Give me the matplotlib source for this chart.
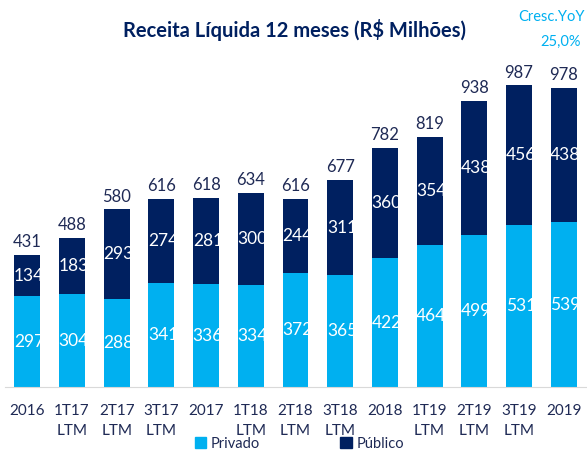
import matplotlib.pyplot as plt
import matplotlib.patches as mpatches
import numpy as np

plt.rcParams['font.family'] = ['Lato', 'DejaVu Sans']

periodos = ['2016', '1T17\nLTM', '2T17\nLTM', '3T17\nLTM', '2017', '1T18\nLTM', '2T18\nLTM',
            '3T18\nLTM', '2018', '1T19\nLTM', '2T19\nLTM', '3T19\nLTM', '2019']
privado = [297, 304, 288, 341, 336, 334, 372, 365, 422, 464, 499, 531, 539]
publico = [134, 183, 293, 274, 281, 300, 244, 311, 360, 354, 438, 456, 438]
total = [431, 488, 580, 616, 618, 634, 616, 677, 782, 819, 938, 987, 978]

azul_claro = '#00B0F0'
azul_escuro = '#002060'
texto = '#1F2A55'

fig = plt.figure(figsize=(5.87, 4.54), dpi=100)
ax = fig.add_axes([5 / 587, 67 / 454, 581 / 587, 327 / 454])

x = np.arange(len(periodos))
b1 = ax.bar(x, privado, width=0.58, color=azul_claro)
b2 = ax.bar(x, publico, width=0.58, bottom=privado, color=azul_escuro)

# rotulos internos (cortados pela barra, como no original)
for bars, vals, bases in [(b1, privado, [0] * len(privado)), (b2, publico, privado)]:
    for bar, v, b in zip(bars, vals, bases):
        t = ax.text(bar.get_x() + bar.get_width() / 2 + 0.04, b + v / 2, str(v),
                    ha='center', va='center', color='white', fontsize=12.5)
        t.set_clip_path(bar)

for xi, t in zip(x, total):
    ax.text(xi, t + 42, str(t), ha='center', va='center', color=texto, fontsize=12)

ax.set_xlim(-0.5, len(periodos) - 0.5)
ax.set_ylim(0, 1070)
ax.set_yticks([])
for s in ['top', 'right', 'left']:
    ax.spines[s].set_visible(False)
ax.spines['bottom'].set_color('#D9D9D9')
ax.set_xticks(x)
ax.set_xticklabels(periodos, fontsize=11, color=texto, linespacing=1.55)
ax.tick_params(axis='x', length=0, pad=12)

fig.text(0.502, 0.934, 'Receita Líquida 12 meses (R$ Milhões)', ha='center', va='center',
         fontsize=14.5, fontweight='bold', color=azul_escuro)
fig.text(0.997, 0.962, 'Cresc.YoY', ha='right', va='center', fontsize=10.5, color=azul_claro)
fig.text(0.955, 0.907, '25,0%', ha='center', va='center', fontsize=10.5, color=azul_claro)

handles = [mpatches.Patch(color=azul_claro, label='Privado'),
           mpatches.Patch(color=azul_escuro, label='Público')]
fig.legend(handles=handles, loc='lower center', bbox_to_anchor=(0.51, -0.022), ncol=2,
           frameon=False, fontsize=10.5, handlelength=0.8, handleheight=0.8,
           handletextpad=0.3, columnspacing=5.5, labelcolor=texto)

fig.savefig('out.png', dpi=100)
